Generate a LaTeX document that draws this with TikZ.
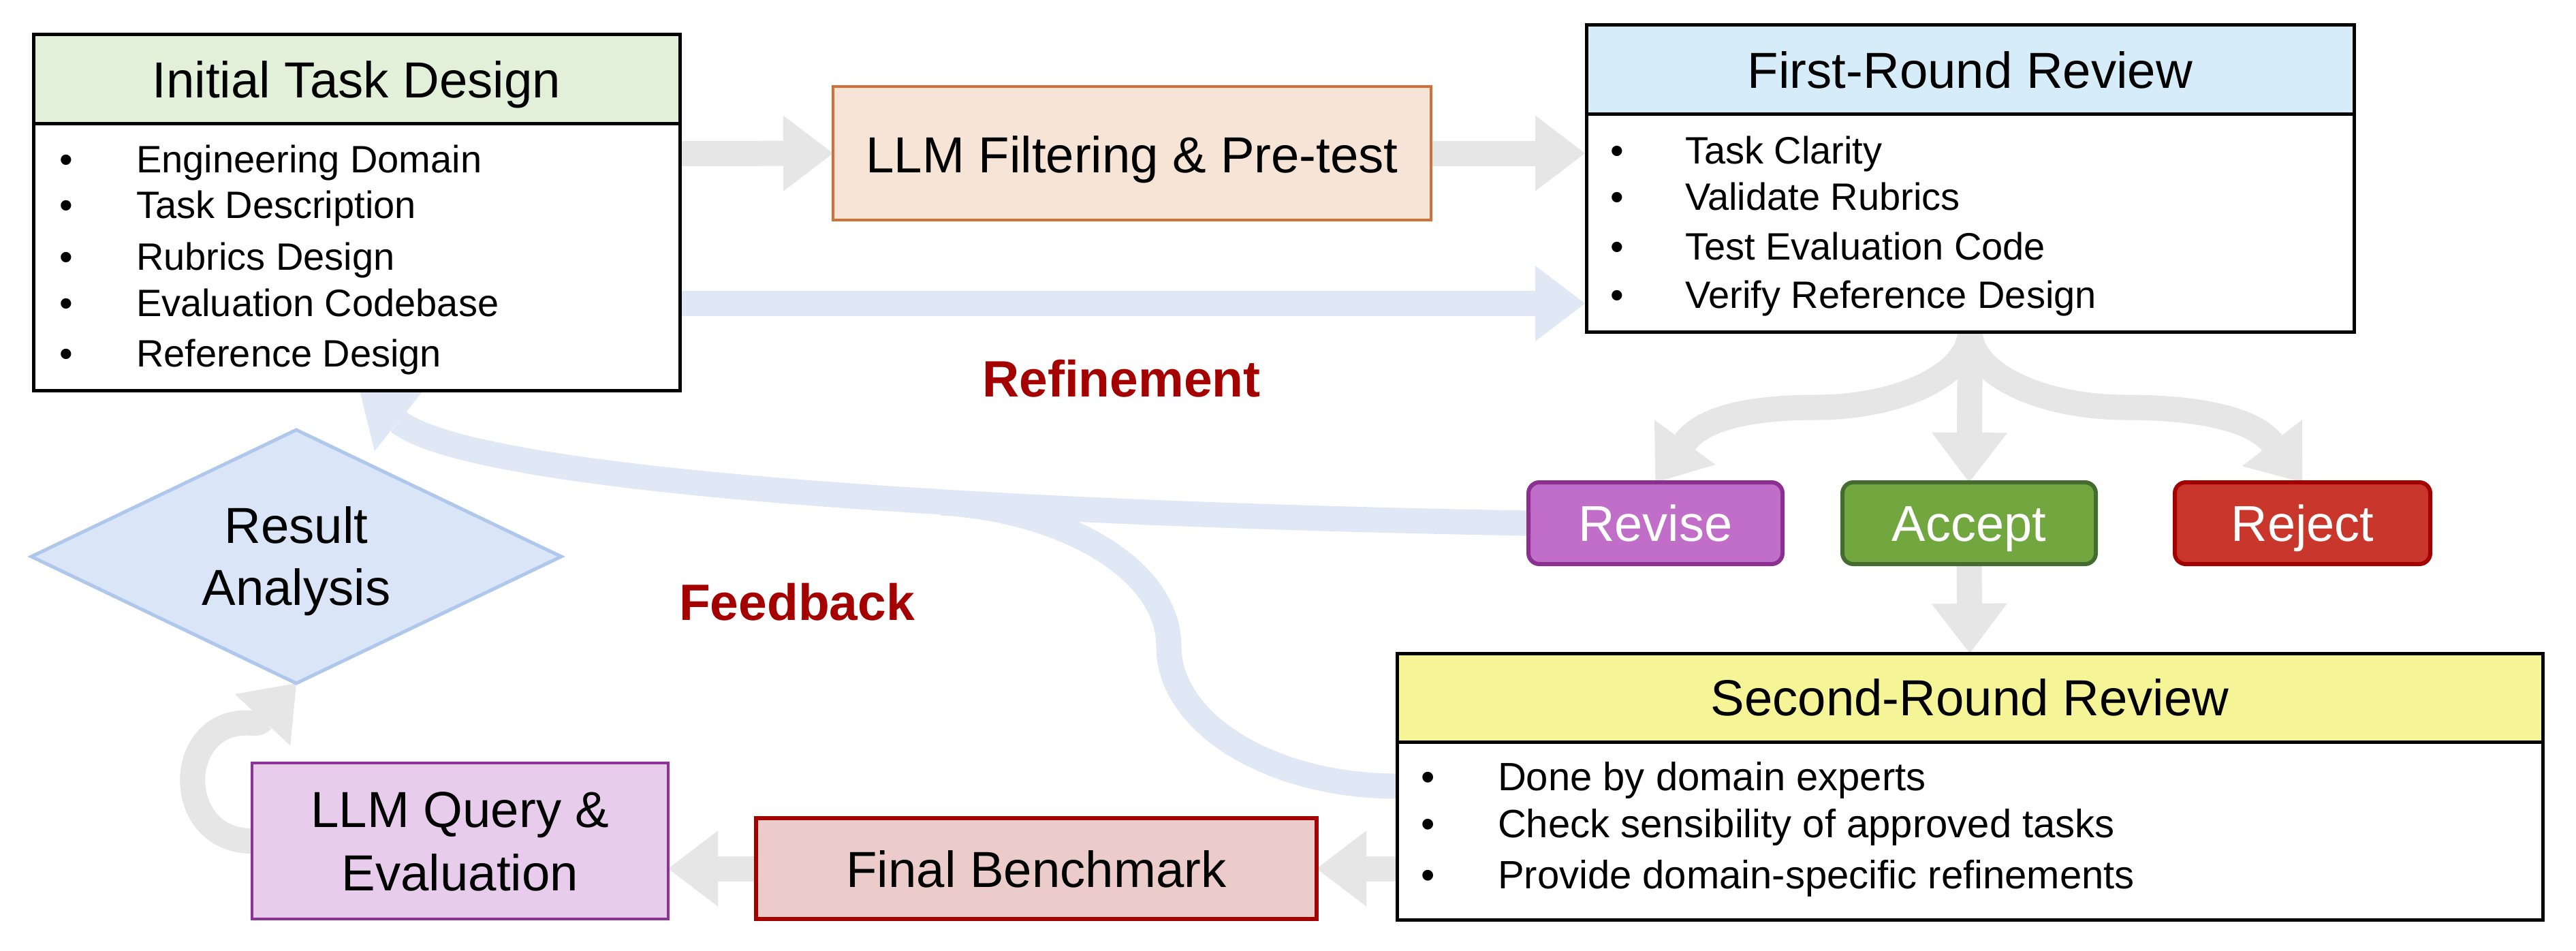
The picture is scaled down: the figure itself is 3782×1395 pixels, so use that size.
\documentclass[tikz,border=0pt]{standalone}
\usepackage{fontspec}
\setmainfont{Liberation Sans}
\usetikzlibrary{calc,shapes.geometric}
\pgfdeclarelayer{bg}
\pgfdeclarelayer{paper}
\pgfsetlayers{paper,bg,main}
\definecolor{grayA}{HTML}{E6E6E6}
\definecolor{blueA}{HTML}{DFE8F4}
\definecolor{greenH}{HTML}{E2F0D9}
\definecolor{blueH}{HTML}{D7ECF9}
\definecolor{yellowH}{HTML}{F5F598}
\definecolor{peach}{HTML}{F6E4D7}
\definecolor{orangeB}{HTML}{CF7139}
\definecolor{pinkF}{HTML}{ECCBCB}
\definecolor{darkred}{HTML}{A50000}
\definecolor{lilac}{HTML}{E8CCEC}
\definecolor{purpleB}{HTML}{8C3396}
\definecolor{diaF}{HTML}{DAE6F8}
\definecolor{diaB}{HTML}{AEC7EA}
\definecolor{reviseF}{HTML}{C06EC8}
\definecolor{reviseB}{HTML}{8B2F90}
\definecolor{acceptF}{HTML}{72A73F}
\definecolor{acceptB}{HTML}{446C30}
\definecolor{rejectF}{HTML}{C9362C}
\definecolor{rejectB}{HTML}{A30000}
% arrow head: #1 colour, #2 point behind the tip, #3 tip
\newcommand\ahead[3]{\fill[#1] let \p1=($(#3)!18.25pt!(#2)$) in ($(\p1)!13.875pt!90:(#3)$) -- (#3) -- ($(\p1)!13.875pt!-90:(#3)$) -- cycle;}
% straight block arrow: #1 colour, #2 start, #3 tip
\newcommand\sarrow[3]{\draw[#1, line width=9.25pt] (#2) -- ($(#3)!17.5pt!(#2)$); \ahead{#1}{#2}{#3}}
\tikzset{
  every node/.style={outer sep=0pt},
  boxline/.style={draw=black, line width=1.25pt, inner sep=0pt, anchor=north west},
  txt/.style={inner sep=0pt, anchor=base, font=\fontsize{18.6}{22}\selectfont},
  item/.style={inner sep=0pt, anchor=base west, font=\fontsize{14}{17}\selectfont},
  bul/.style={inner sep=0pt, anchor=base, font=\fontsize{14}{17}\selectfont},
  itemb/.style={inner sep=0pt, anchor=base west, font=\fontsize{14.5}{17}\selectfont},
  bulb/.style={inner sep=0pt, anchor=base, font=\fontsize{14.5}{17}\selectfont},
  lbl/.style={inner sep=0pt, anchor=base, text=darkred, font=\bfseries\fontsize{18.75}{22}\selectfont},
  btn/.style={rounded corners=4pt, line width=1.5pt, inner sep=0pt, anchor=north west, minimum height=120*0.25pt},
  btntxt/.style={inner sep=0pt, anchor=base, text=white, font=\fontsize{18.5}{22}\selectfont},
  shaft/.style={line width=9.25pt},
}
\begin{document}
\begin{tikzpicture}[x=0.25pt, y=-0.25pt]
\begin{pgfonlayer}{paper}
\fill[white] (0,0) rectangle (3782,1395);
\end{pgfonlayer}
\useasboundingbox (0,0) rectangle (3782,1395);

% ---------- boxes ----------
\path
  node[boxline, fill=greenH, minimum width=949*0.25pt, minimum height=131*0.25pt] (initH) at (49,50) {}
  node[boxline, fill=white, minimum width=949*0.25pt, minimum height=392*0.25pt] (initB) at (49,181) {}
  node[draw=orangeB, line width=1pt, fill=peach, inner sep=0pt, anchor=north west, minimum width=878*0.25pt, minimum height=196*0.25pt] (filt) at (1223,127) {}
  node[boxline, fill=blueH, minimum width=1127*0.25pt, minimum height=131*0.25pt] (frH) at (2329,36) {}
  node[boxline, fill=white, minimum width=1127*0.25pt, minimum height=320*0.25pt] (frB) at (2329,167) {}
  node[btn, draw=reviseB, fill=reviseF, minimum width=373*0.25pt] (revise) at (2244,708) {}
  node[btn, draw=acceptB, fill=acceptF, minimum width=372*0.25pt] (accept) at (2705,708) {}
  node[btn, draw=rejectB, fill=rejectF, minimum width=375*0.25pt] (reject) at (3193,708) {}
  node[boxline, fill=yellowH, minimum width=1682*0.25pt, minimum height=130*0.25pt] (secH) at (2051,959) {}
  node[boxline, fill=white, minimum width=1682*0.25pt, minimum height=261*0.25pt] (secB) at (2051,1089) {}
  node[draw=darkred, line width=1.5pt, fill=pinkF, inner sep=0pt, anchor=north west, minimum width=823*0.25pt, minimum height=148*0.25pt] (final) at (1110,1201) {}
  node[draw=purpleB, line width=1pt, fill=lilac, inner sep=0pt, anchor=north west, minimum width=611*0.25pt, minimum height=229*0.25pt] (query) at (370,1120) {}
  node[diamond, draw=diaB, line width=1.25pt, fill=diaF, inner sep=0pt, minimum width=778*0.25pt, minimum height=372*0.25pt] (dia) at (435,817) {};

% ---------- connectors (behind the boxes) ----------
\begin{pgfonlayer}{bg}
% blue feedback arrows
\draw[blueA, shaft] (revise.west) .. controls (1500,755) and (700,710) .. (585,619);
\coordinate (fbtip) at ($(initB.south west)+(479,0)$);
\ahead{blueA}{585,619}{fbtip}
\draw[blueA, shaft] ($(secB.north west)+(0,65)$) .. controls (1866,1154) and (1716,1062) .. (1716,949)
   .. controls (1716,834) and (1560,748) .. (1382,738);
% blue straight arrow
\sarrow{blueA}{$(initB.north east)+(0,264.5)$}{$(frB.north west)+(-2,278.5)$}
% gray straight arrows
\sarrow{grayA}{$(initB.north east)+(0,44.5)$}{filt.west}
\sarrow{grayA}{filt.east}{$(frB.north west)+(-2,58)$}
\sarrow{grayA}{frB.south}{accept.north}
\sarrow{grayA}{accept.south}{secH.north}
\sarrow{grayA}{$(secB.north west)+(0,186)$}{final.east}
\sarrow{grayA}{final.west}{$(query.north east)+(0,155)$}
% gray branch arrows to Revise / Reject
\draw[grayA, shaft] (frB.south) .. controls (2892,548) and (2791,598) .. (2666,598)
   .. controls (2586,598) and (2503,609) .. (2473.5,649.5);
\ahead{grayA}{2473.5,649.5}{revise.north}
\draw[grayA, shaft] (frB.south) .. controls (2892,548) and (2995,598) .. (3122,598)
   .. controls (3212,598) and (3305,611) .. (3336,650.5);
\ahead{grayA}{3336,650.5}{reject.north}
% gray loop arrow to Result Analysis
\draw[grayA, shaft] (query.west) .. controls (255,1234.5) and (255,1061) .. (362,1061)
   .. controls (372,1061) and (378,1064) .. (386,1056);
\ahead{grayA}{386,1056}{dia.south}
\end{pgfonlayer}

% ---------- texts ----------
\node[txt] (initT) at (523.5,143) {Initial Task Design};
\node[bul] (ib1) at (97,253) {\textbullet}; \node[item] (ii1) at (200,253) {Engineering Domain};
\node[bul] (ib2) at (97,320) {\textbullet}; \node[item] (ii2) at (200,320) {Task Description};
\node[bul] (ib3) at (97,396) {\textbullet}; \node[item] (ii3) at (200,396) {Rubrics Design};
\node[bul] (ib4) at (97,464) {\textbullet}; \node[item] (ii4) at (200,464) {Evaluation Codebase};
\node[bul] (ib5) at (97,538) {\textbullet}; \node[item] (ii5) at (200,538) {Reference Design};

\node[txt] (filtT) at (1662,253) {LLM Filtering \& Pre-test};

\node[txt] (frT) at (2892.5,129) {First-Round Review};
\node[bul] (fb1) at (2374,240) {\textbullet}; \node[item] (fi1) at (2474,240) {Task Clarity};
\node[bul] (fb2) at (2374,308) {\textbullet}; \node[item] (fi2) at (2474,308) {Validate Rubrics};
\node[bul] (fb3) at (2374,381) {\textbullet}; \node[item] (fi3) at (2474,381) {Test Evaluation Code};
\node[bul] (fb4) at (2374,452) {\textbullet}; \node[item] (fi4) at (2474,452) {Verify Reference Design};

\node[lbl] (refT) at (1646.5,582) {Refinement};
\node[lbl] (fbT) at (1170,910) {Feedback};

\node[txt] (diaT1) at (435,797) {Result};
\node[txt] (diaT2) at (435,888) {Analysis};

\node[btntxt] (reviseT) at (2430.5,794) {Revise};
\node[btntxt] (acceptT) at (2891,794) {Accept};
\node[btntxt] (rejectT) at (3380.5,794) {Reject};

\node[txt] (secT) at (2892,1050) {Second-Round Review};
\node[bulb] (sb1) at (2097,1160) {\textbullet}; \node[itemb] (si1) at (2199,1160) {Done by domain experts};
\node[bulb] (sb2) at (2097,1229) {\textbullet}; \node[itemb] (si2) at (2199,1229) {Check sensibility of approved tasks};
\node[bulb] (sb3) at (2097,1304) {\textbullet}; \node[itemb] (si3) at (2199,1304) {Provide domain-specific refinements};

\node[txt] (queryT1) at (675.5,1214) {LLM Query \&};
\node[txt] (queryT2) at (675.5,1307) {Evaluation};
\node[txt] (finalT) at (1521.5,1302) {Final Benchmark};
\end{tikzpicture}
\end{document}
